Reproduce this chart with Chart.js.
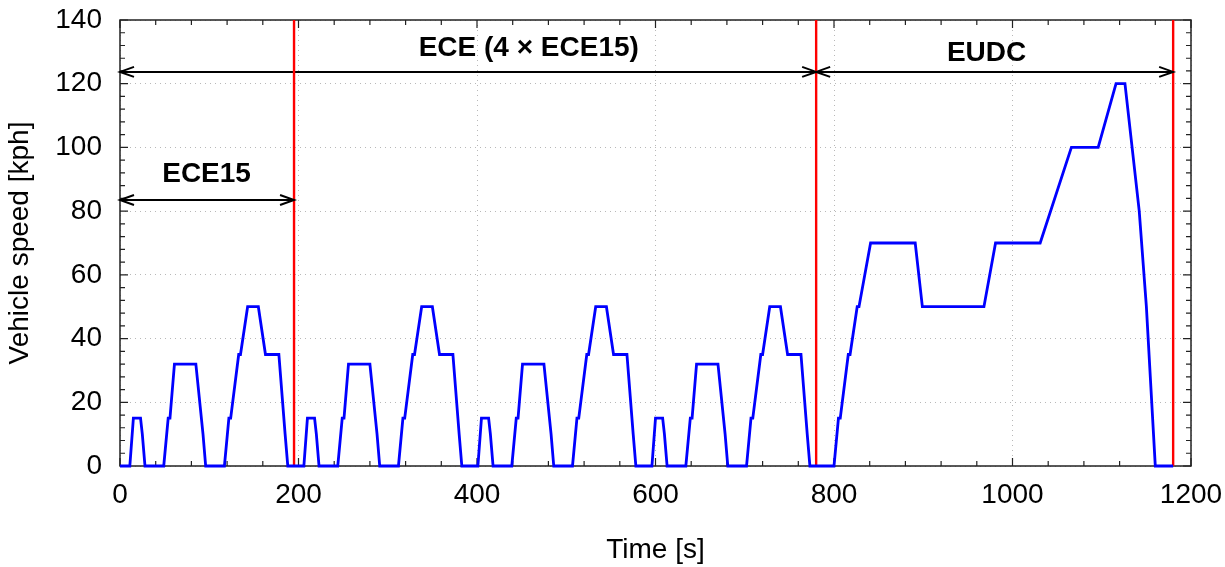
<!DOCTYPE html>
<html>
<head>
<meta charset="utf-8">
<script src="https://cdn.jsdelivr.net/npm/chart.js@4/dist/chart.umd.min.js"></script>
<style>
  html, body { margin: 0; padding: 0; background: #fff; }
  #wrap { width: 1225px; height: 567px; }
</style>
</head>
<body>
<div id="wrap"><canvas id="nedc"></canvas></div>
<script>
// ECE15 urban cycle (195 s), repeated 4 times
const ece15Time  = [0, 11, 15, 23, 25, 28, 49, 54, 56, 61, 85, 93, 96, 117, 122, 124, 133, 135, 143, 155, 163, 176, 178, 185, 188, 195];
const ece15Speed = [0,  0, 15, 15, 10,  0,  0, 15, 15, 32, 32, 10,  0,   0,  15,  15,  35,  35,  50,  50,  35,  35,  35,  10,   0,   0];
const ece15Starts = [0, 195, 390, 585];

// EUDC extra-urban cycle (400 s), starts at 780 s
const eudcStart = 780;
const eudcTime  = [0, 20, 25, 27, 36, 38, 46, 48, 61, 111, 119, 188, 201, 251, 286, 316, 336, 346, 362, 370, 380, 400];
const eudcSpeed = [0,  0, 15, 15, 35, 35, 50, 50, 70,  70,  50,  50,  70,  70, 100, 100, 120, 120,  80,  50,   0,   0];

// phase boundaries (red lines) and span arrows
const boundaries = [195, 780, 1180];
const spans = [
    { from: 0,   to: 780,  speed: 123.7 },
    { from: 780, to: 1180, speed: 123.7 },
    { from: 0,   to: 195,  speed: 83.5 }
];
const spanLabels = [
    { text: "ECE (4 \u00d7 ECE15)", t: 458, speed: 131 },
    { text: "EUDC",                 t: 971, speed: 129.6 },
    { text: "ECE15",                t: 97,  speed: 91.6 }
];

const xTicks = [0, 200, 400, 600, 800, 1000, 1200];
const yTicks = [0, 20, 40, 60, 80, 100, 120, 140];

const FONT = "'Liberation Sans', Arial, sans-serif";

const cycle = [];
ece15Starts.forEach(s => {
    ece15Time.forEach((t, i) => cycle.push({ x: s + t, y: ece15Speed[i] }));
});
eudcTime.forEach((t, i) => cycle.push({ x: eudcStart + t, y: eudcSpeed[i] }));

const datasets = [{
    data: cycle,
    borderColor: "#0000ff",
    borderWidth: 2.8,
    pointRadius: 0,
    tension: 0,
    clip: false,
    order: 0
}];
boundaries.forEach(b => datasets.push({
    data: [{ x: b, y: 0 }, { x: b, y: 140 }],
    borderColor: "#ff0000",
    borderWidth: 2.4,
    pointRadius: 0,
    clip: false,
    order: 1
}));
spans.forEach(s => datasets.push({
    data: [{ x: s.from, y: s.speed }, { x: s.to, y: s.speed }],
    borderColor: "#000",
    borderWidth: 2,
    pointRadius: 0,
    clip: false,
    order: 2
}));

// frame + inward ticks, drawn before the data
const framePlugin = {
    id: "frame",
    beforeDatasetsDraw(chart) {
        const { ctx, chartArea: a, scales: { x, y } } = chart;
        ctx.save();
        ctx.strokeStyle = "#222";
        ctx.lineWidth = 1.5;
        ctx.strokeRect(a.left, a.top, a.right - a.left, a.bottom - a.top);
        ctx.lineWidth = 1.2;
        ctx.beginPath();
        for (let v = 0; v <= 1200; v += 40) {
            const px = x.getPixelForValue(v);
            const len = v % 200 === 0 ? 8 : 5;
            ctx.moveTo(px, a.bottom); ctx.lineTo(px, a.bottom - len);
            ctx.moveTo(px, a.top);    ctx.lineTo(px, a.top + len);
        }
        for (let v = 0; v <= 140; v += 4) {
            const py = y.getPixelForValue(v);
            const len = v % 20 === 0 ? 8 : 5;
            ctx.moveTo(a.left, py);  ctx.lineTo(a.left + len, py);
            ctx.moveTo(a.right, py); ctx.lineTo(a.right - len, py);
        }
        ctx.stroke();
        ctx.restore();
    }
};

// arrow heads and span labels
const annotatePlugin = {
    id: "annotate",
    afterDatasetsDraw(chart) {
        const { ctx, scales: { x, y } } = chart;
        ctx.save();
        ctx.strokeStyle = "#000";
        ctx.lineWidth = 2;
        const head = (px, py, dir) => {
            ctx.beginPath();
            ctx.moveTo(px + dir * 14, py - 5);
            ctx.lineTo(px, py);
            ctx.lineTo(px + dir * 14, py + 5);
            ctx.stroke();
        };
        spans.forEach(s => {
            const py = y.getPixelForValue(s.speed);
            head(x.getPixelForValue(s.from), py, 1);
            head(x.getPixelForValue(s.to), py, -1);
        });
        ctx.fillStyle = "#000";
        ctx.font = "bold 28px " + FONT;
        ctx.textAlign = "center";
        ctx.textBaseline = "middle";
        spanLabels.forEach(l => ctx.fillText(l.text, x.getPixelForValue(l.t), y.getPixelForValue(l.speed)));
        ctx.restore();
    }
};

new Chart(document.getElementById("nedc"), {
    type: "line",
    data: { datasets },
    plugins: [framePlugin, annotatePlugin],
    options: {
        responsive: true,
        maintainAspectRatio: false,
        animation: false,
        layout: { padding: { top: 20, right: 34, left: 0, bottom: 0 } },
        plugins: { legend: { display: false }, tooltip: { enabled: false } },
        scales: {
            x: {
                type: "linear",
                min: 0,
                max: 1200,
                afterBuildTicks: s => { s.ticks = xTicks.map(v => ({ value: v })); },
                afterFit: s => { s.height = 101; s.paddingLeft = 0; s.paddingRight = 0; },
                ticks: { color: "#000", padding: 12, maxRotation: 0, callback: v => String(v), font: { family: FONT, size: 28 } },
                grid: { color: "#b8b8b8", drawTicks: false, lineWidth: 1 },
                border: { display: false, dash: [1, 4] },
                title: { display: true, text: "Time [s]", color: "#000", padding: 0, font: { family: FONT, size: 28 } }
            },
            y: {
                min: 0,
                max: 140,
                afterBuildTicks: s => { s.ticks = yTicks.map(v => ({ value: v })); },
                afterFit: s => { s.width = 120; s.paddingTop = 0; s.paddingBottom = 0; },
                ticks: { color: "#000", padding: 18, font: { family: FONT, size: 28 } },
                grid: { color: "#b8b8b8", drawTicks: false, lineWidth: 1 },
                border: { display: false, dash: [1, 4] },
                title: { display: true, text: "Vehicle speed [kph]", color: "#000", padding: { top: 3, bottom: 0 }, font: { family: FONT, size: 28 } }
            }
        }
    }
});
</script>
</body>
</html>
